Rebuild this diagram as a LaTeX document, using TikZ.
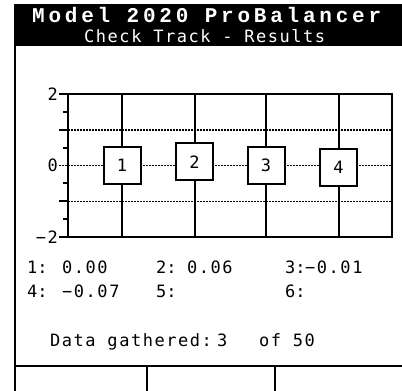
\documentclass[tikz,border=0pt]{standalone}
\usepackage{fontspec}
\newfontfamily\lcdfont[LetterSpace=9]{DejaVu Sans Mono}
\newfontfamily\lcdtight{DejaVu Sans Mono}
\newfontfamily\titlefont[LetterSpace=18]{Liberation Mono}

\begin{document}
\begin{tikzpicture}[x=1pt,y=-1pt,
                frame line/.style={line width=2pt},
                grid line/.style={line width=2pt},
                dot line/.style={line width=1.5pt,dash pattern=on 1.5pt off 1.5pt},
                track box/.style={draw,fill=white,line width=2pt,minimum size=37pt,inner sep=0pt,
                                  font=\lcdfont\fontsize{17}{20}\selectfont},
                lcd text/.style={inner sep=0pt,anchor=base west,font=\lcdfont\fontsize{17}{20}\selectfont},
                slot text/.style={lcd text,font=\lcdtight\fontsize{17}{20}\selectfont},
                axis label/.style={inner sep=0pt,anchor=east,font=\lcdfont\fontsize{17}{20}\selectfont}]
	\useasboundingbox (0,0) rectangle (402,391);

	% header
	\fill[black] (15,4) rectangle (402,46);
	\node[lcd text,white,font=\titlefont\bfseries\fontsize{21}{24}\selectfont] (title) at (32,22) {Model 2020 ProBalancer};
	\node[lcd text,white] (subtitle) at (84,42) {Check Track - Results};

	% frame and soft keys
	\coordinate (f1) at (15,4);
	\coordinate (f2) at (15,391);
	\coordinate (k1) at (15,366);
	\coordinate (k2) at (402,366);
	\coordinate (k3) at (147,366);
	\coordinate (k4) at (147,391);
	\coordinate (k5) at (275,366);
	\coordinate (k6) at (275,391);
	\draw[frame line] (f1) -- (f2);
	\draw[frame line] (k1) -- (k2);
	\draw[frame line] (k3) -- (k4);
	\draw[frame line] (k5) -- (k6);

	% plot area
	\draw[dot line] (59,129.75) -- (392,129.75);
	\draw[dot line] (59,165.5) -- (392,165.5);
	\draw[dot line] (59,201.25) -- (392,201.25);
	\draw[grid line] (59,94) -- (392,94) -- (392,237) -- (59,237);
	\draw[grid line] (68,94) -- (68,237);
	\draw[grid line] (59,129.75) -- (68,129.75);
	\draw[grid line] (59,201.25) -- (68,201.25);
	\draw[grid line] (63,111.9) -- (68,111.9);
	\draw[grid line] (63,147.6) -- (68,147.6);
	\draw[grid line] (63,183.4) -- (68,183.4);
	\draw[grid line] (63,219.1) -- (68,219.1);

	\node[axis label] (a2) at (58,94) {2};
	\node[axis label] (a0) at (58,165.5) {0};
	\node[axis label] (a-2) at (58,237) {−2};

	\node[track box] (1) at (122,165.5) {1};
	\node[track box] (2) at (194.5,161.7) {2};
	\node[track box] (3) at (266,165.5) {3};
	\node[track box] (4) at (338.5,167) {4};

	\coordinate (t1) at (122,94);
	\coordinate (u1) at (122,237);
	\coordinate (t2) at (194.5,94);
	\coordinate (u2) at (194.5,237);
	\coordinate (t3) at (266,94);
	\coordinate (u3) at (266,237);
	\coordinate (t4) at (338.5,94);
	\coordinate (u4) at (338.5,237);

	\path[grid line,draw]
	(t1) -- (1) (1) -- (u1)
	(t2) -- (2) (2) -- (u2)
	(t3) -- (3) (3) -- (u3)
	(t4) -- (4) (4) -- (u4);

	% results
	\node[slot text] (n1) at (27,273) {1:};
	\node[lcd text] (r1) at (62,273) {0.00};
	\node[slot text] (n2) at (156,273) {2:};
	\node[lcd text] (r2) at (187,273) {0.06};
	\node[slot text] (n3) at (285,273) {3:};
	\node[lcd text] (r3) at (305,273) {−0.01};
	\node[slot text] (n4) at (27,297) {4:};
	\node[lcd text] (r4) at (62,297) {−0.07};
	\node[slot text] (n5) at (156,297) {5:};
	\node[slot text] (n6) at (285,297) {6:};

	\node[lcd text] (data) at (50,346) {Data gathered:};
	\node[lcd text] (count) at (217,346) {3};
	\node[lcd text] (total) at (259,346) {of 50};
\end{tikzpicture}
\end{document}
